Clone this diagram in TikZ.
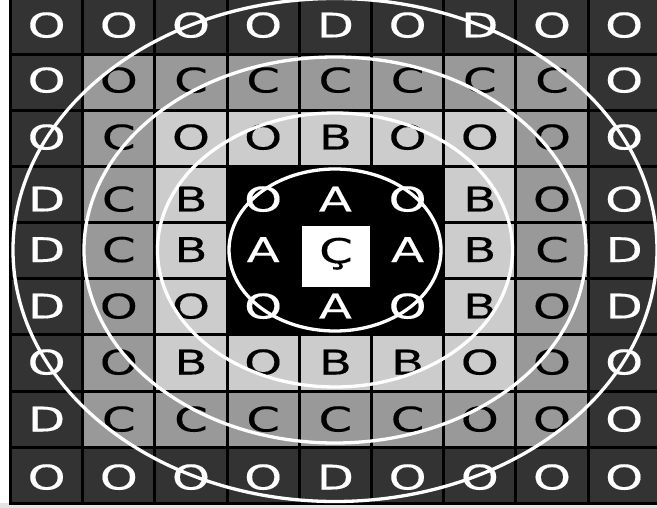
\documentclass[tikz,border=0pt]{standalone}
\usepackage{fontspec}
\newfontfamily\cellfont[FakeStretch=1.42,FakeBold=0.3]{DejaVu Sans}
\definecolor{cdark}{HTML}{333333}
\definecolor{cmed}{HTML}{999999}
\definecolor{clight}{HTML}{CCCCCC}
\tikzset{
  cell/.style={draw=black, line width=3pt, minimum width=72.2pt, minimum height=56pt,
    inner sep=0pt, outer sep=0pt},
  ltr/.style={anchor=base, inner sep=0pt, font=\cellfont\fontsize{34}{34}\selectfont},
  cellk/.style={fill=cdark}, ltrk/.style={text=white},
  cellm/.style={fill=cmed}, ltrm/.style={text=black},
  celll/.style={fill=clight}, ltrl/.style={text=black},
  cellb/.style={fill=black}, ltrb/.style={text=white},
  ring/.style={draw=white, line width=3.3pt}
}
\begin{document}
\begin{tikzpicture}[x=1pt,y=-1pt]
\useasboundingbox (0,0) rectangle (657,508);
\fill[white] (0,0) rectangle (657,508);
\fill[black!10] (0,503) rectangle (657,508);
\foreach \row/\dy [count=\r from 0] in {
  {O/k,O/k,O/k,O/k,D/k,O/k,D/k,O/k,O/k}/-2,
  {O/k,O/m,C/m,C/m,C/m,C/m,C/m,C/m,O/k}/-3,
  {O/k,C/m,O/l,O/l,B/l,O/l,O/l,O/m,O/k}/-2,
  {D/k,C/m,B/l,O/b,A/b,O/b,B/l,O/m,O/k}/4,
  {D/k,C/m,B/l,A/b,{}/b,A/b,B/l,C/m,D/k}/-1.5,
  {D/k,O/m,O/l,O/b,A/b,O/b,B/l,O/m,D/k}/-1,
  {O/k,O/m,B/l,O/l,B/l,B/l,O/l,O/m,O/k}/-1,
  {D/k,C/m,C/m,C/m,C/m,C/m,O/m,O/m,O/k}/0,
  {O/k,O/k,O/k,O/k,D/k,O/k,O/k,O/k,O/k}/2} {
  \foreach \ch/\cl [count=\c from 0] in \row {
    \node[cell, cell\cl] (c\r-\c) at ({10.5+72.2*(\c+0.5)},{-1+56*(\r+0.5)}) {};
    \node[ltr, ltr\cl] (l\r-\c) at ({10.5+72.2*(\c+0.5)},{-1+56*(\r+0.5)+\dy+12.5}) {\ch};
  }
}
% centre white box with C-cedilla
\node[fill=white, minimum width=68pt, minimum height=61.5pt, inner sep=0pt] (cbox) at (336,256.5) {};
\node[ltr, text=black] (cced) at (336,263) {Ç};
% rings
\coordinate (o) at (335,250);
\draw[ring] (o) ellipse [x radius=106, y radius=81];
\draw[ring] (o) ellipse [x radius=177.5, y radius=137];
\draw[ring] (o) ellipse [x radius=251, y radius=193];
\draw[ring] (o) ellipse [x radius=322, y radius=251.5];
\end{tikzpicture}
\end{document}
